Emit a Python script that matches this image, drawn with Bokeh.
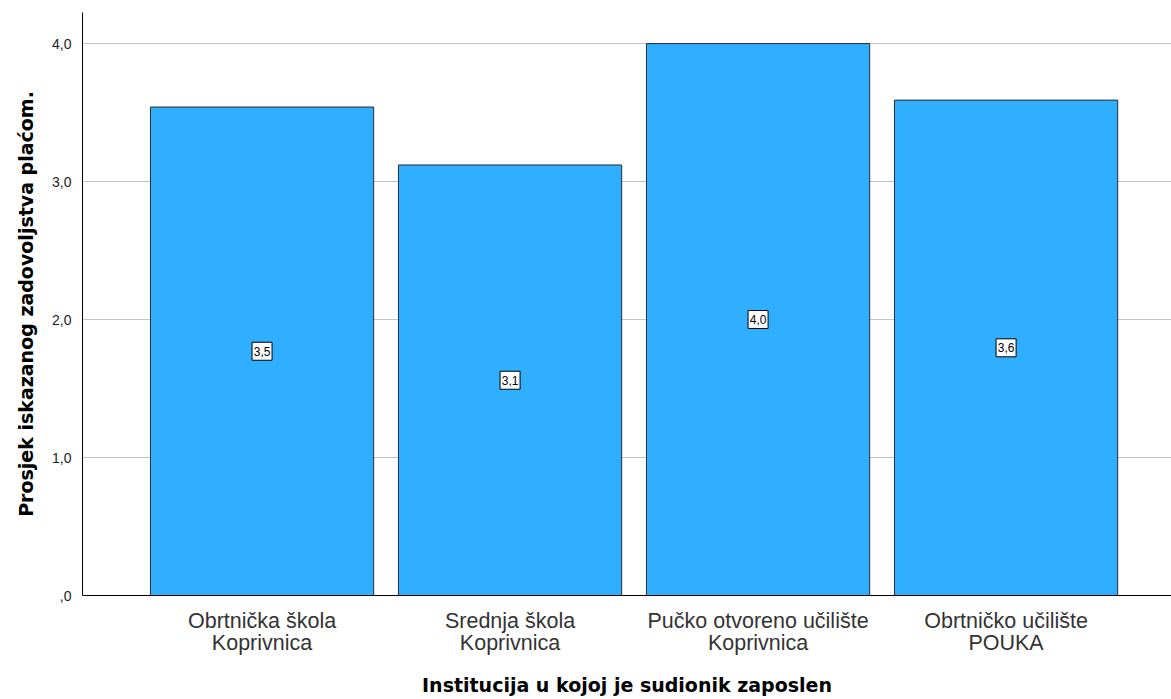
from bokeh.plotting import figure
from bokeh.models import Range1d, FixedTicker, ColumnDataSource
from bokeh.core.properties import value
from bokeh.embed import file_html
from bokeh.resources import INLINE

categories = ["Obrtnička škola\nKoprivnica", "Srednja škola\nKoprivnica",
              "Pučko otvoreno učilište\nKoprivnica", "Obrtničko učilište\nPOUKA"]
values = [3.54, 3.12, 4.00, 3.59]
value_labels = ["3,5", "3,1", "4,0", "3,6"]
y_ticks = [0, 1, 2, 3, 4]
y_tick_labels = [",0", "1,0", "2,0", "3,0", "4,0"]

FONT = "Liberation Sans"
BOLD_FONT = "DejaVu Sans"
xs = list(range(len(categories)))
src = ColumnDataSource(dict(x=xs, top=values, mid=[v / 2 for v in values], lab=value_labels))

p = figure(width=1171, height=699, output_backend="svg", toolbar_location=None,
           x_range=Range1d(-0.724, 3.667), y_range=Range1d(0, 4.225),
           min_border_left=82, min_border_right=0, min_border_top=12, min_border_bottom=104)
p.outline_line_color = None
p.background_fill_color = "white"
p.border_fill_color = "white"

p.vbar(x="x", top="top", width=0.9, source=src, fill_color="#30AEFF",
       line_color="#2b2b2b", line_width=1)

# value label boxes
p.rect(x="x", y="mid", width=20, height=18, width_units="screen", height_units="screen",
       source=src, fill_color="white", line_color="black", line_width=1)
p.text(x="x", y="mid", text="lab", source=src, text_align="center", text_baseline="middle",
       text_font=value(FONT), text_font_size="12px", text_color="black")

# axes
p.xaxis.ticker = FixedTicker(ticks=xs)
p.xaxis.major_label_overrides = {i: c for i, c in zip(xs, categories)}
p.yaxis.ticker = FixedTicker(ticks=y_ticks)
p.yaxis.major_label_overrides = {t: l for t, l in zip(y_ticks, y_tick_labels)}

for ax in (p.xaxis[0], p.yaxis[0]):
    ax.axis_line_color = "black"
    ax.axis_line_width = 1
    ax.major_tick_line_color = None
    ax.minor_tick_line_color = None
    ax.major_label_text_font = FONT
    ax.axis_label_text_font = BOLD_FONT
    ax.axis_label_text_font_style = "bold"
    ax.axis_label_text_color = "black"

p.xaxis.major_label_text_font_size = "21.5px"
p.xaxis.major_label_text_line_height = 0.95
p.xaxis.major_label_text_color = "#333333"
p.xaxis.major_label_standoff = 7
p.xaxis.axis_label = "Institucija u kojoj je sudionik zaposlen"
p.xaxis.axis_label_text_font_size = "19px"
p.xaxis.axis_label_standoff = 16

p.yaxis.major_label_text_font_size = "14px"
p.yaxis.major_label_text_color = "#222222"
p.yaxis.major_label_standoff = 5
p.yaxis.axis_label = "Prosjek iskazanog zadovoljstva plaćom."
p.yaxis.axis_label_text_font_size = "19px"
p.yaxis.axis_label_standoff = 12

p.xgrid.grid_line_color = None
p.ygrid.ticker = FixedTicker(ticks=y_ticks[1:])
p.ygrid.grid_line_color = "#c4c4c4"
p.ygrid.grid_line_width = 1

open("out.html", "w").write(file_html(p, INLINE))
